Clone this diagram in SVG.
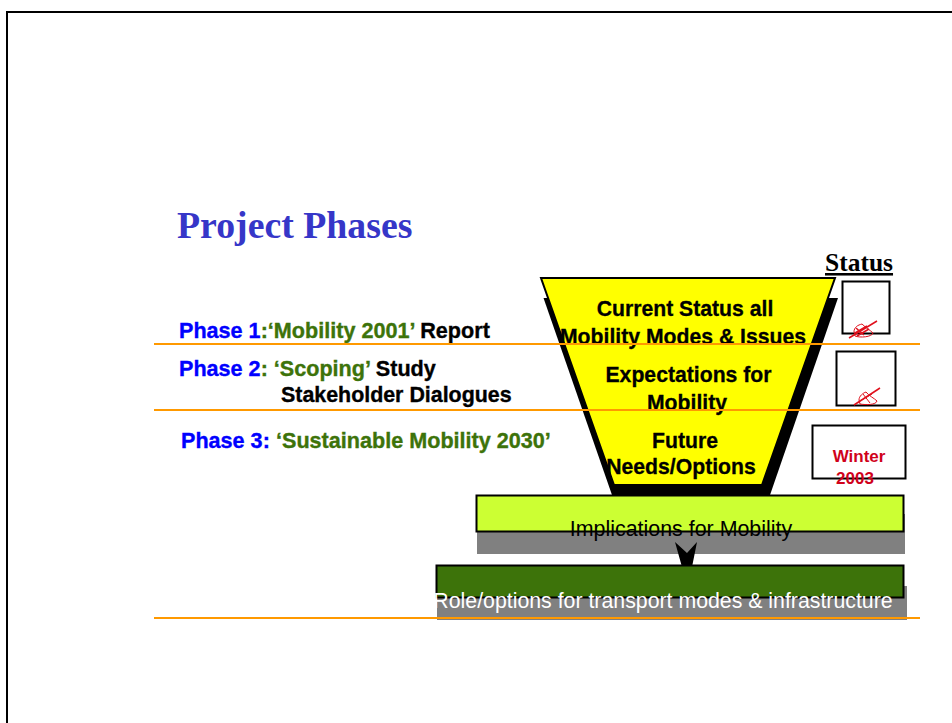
<svg xmlns="http://www.w3.org/2000/svg" width="952" height="723" viewBox="0 0 952 723">
<style>
text{font-family:"Liberation Sans",Arial,sans-serif}
.b{font-weight:bold;font-size:21.600px;stroke-width:.35px}
.f{font-weight:bold;font-size:21.200px;fill:#000;stroke:#000;stroke-width:.3px;text-anchor:middle}
.w{font-size:17px;font-weight:bold;fill:#d0021b;text-anchor:middle}
.l{fill:none;stroke:#f90;stroke-width:2}
.s{fill:#fff;stroke:#000;stroke-width:2}
.bl{fill:#00f;stroke:#00f}.g{fill:#3d730a;stroke:#3d730a}.k{fill:#000;stroke:#000}
.p{fill:none;stroke:#e0101c;stroke-width:1}
</style>
<rect x="0" y="0" width="952" height="723" fill="#fff"/>
<path d="M7 723V12H952" fill="none" stroke="#000" stroke-width="2"/>
<g id="title"><text x="177" y="238" font-weight="bold" font-size="37.800" fill="#3636c8" style="font-family:'Liberation Serif',serif">Project Phases</text></g>
<g id="funnel">
<path d="M543.500 298H838L770 495H612Z" fill="#000"/>
<path d="M541 278H835L762 485H614Z" fill="#ff0" stroke="#000" stroke-width="2"/>
<text class="f" x="685" y="316">Current Status all</text>
<text class="f" x="683" y="344">Mobility Modes &amp; Issues</text>
<text class="f" x="688.500" y="382">Expectations for</text>
<text class="f" x="687" y="410">Mobility</text>
<text class="f" x="685" y="448">Future</text>
<text class="f" x="681" y="474">Needs/Options</text>
</g>
<g id="implications">
<rect x="477" y="514" width="428" height="40" fill="#808080"/>
<rect x="476.500" y="495.500" width="427" height="36" fill="#cf3" stroke="#000" stroke-width="2"/>
<text x="681" y="535.500" font-size="21.400" fill="#000" text-anchor="middle">Implications for Mobility</text>
</g>
<g id="connectors"><path d="M675 542L687 553L697 542L692 567H682Z" fill="#000"/></g>
<g id="role">
<rect x="437" y="586" width="470" height="34" fill="#808080"/>
<rect x="436.500" y="565.500" width="467" height="32" fill="#3d730a" stroke="#000" stroke-width="2"/>
<text x="663" y="608" font-size="21.300" fill="#fff" text-anchor="middle">Role/options for transport modes &amp; infrastructure</text>
</g>
<g id="phase1"><text class="b" x="179" y="338"><tspan class="bl">Phase 1</tspan><tspan class="g">:‘Mobility 2001’ </tspan><tspan class="k">Report</tspan></text></g>
<g id="phase2"><text class="b" x="179" y="375.500"><tspan class="bl">Phase 2</tspan><tspan class="g">: ‘Scoping’ </tspan><tspan class="k">Study</tspan></text>
<text class="b k" x="281" y="402" style="font-size:21.400px">Stakeholder Dialogues</text></g>
<g id="phase3"><text class="b" x="181" y="447.500"><tspan class="bl">Phase 3:</tspan><tspan class="g" x="276">‘Sustainable Mobility 2030’</tspan></text></g>
<g id="rules">
<path class="l" d="M154 344H920M154 410H920M154 618H920"/>
</g>
<g id="status"><text x="825" y="271" font-size="25.500" font-weight="bold" text-decoration="underline" style="font-family:'Liberation Serif',serif">Status</text></g>
<g id="box1"><rect class="s" x="842.500" y="281.500" width="47" height="52"/>
<g class="p"><path d="M849 338L877 321" stroke-width="1.500"/><path d="M854 332C854 327 858 325 862 324C866 328 870 330 873 333C872 337 860 338 855 336Z"/><path d="M855 333L867 326M857 336L869 329M856 328L864 335" stroke-width="1.500"/></g></g>
<g id="box2"><rect class="s" x="836.500" y="351.500" width="59" height="54"/>
<g class="p"><path d="M854 405L880 388" stroke-width="1.500"/><path d="M859 400C859 396 863 393 866 392C869 396 874 398 877 401C876 405 866 405 860 404Z"/><path d="M860 401L872 394M863 394L870 403"/></g></g>
<g id="box3"><rect class="s" x="812.500" y="425.500" width="93" height="53"/>
<text class="w" x="859" y="462">Winter</text>
<text class="w" x="855" y="484">2003</text></g>
</svg>
